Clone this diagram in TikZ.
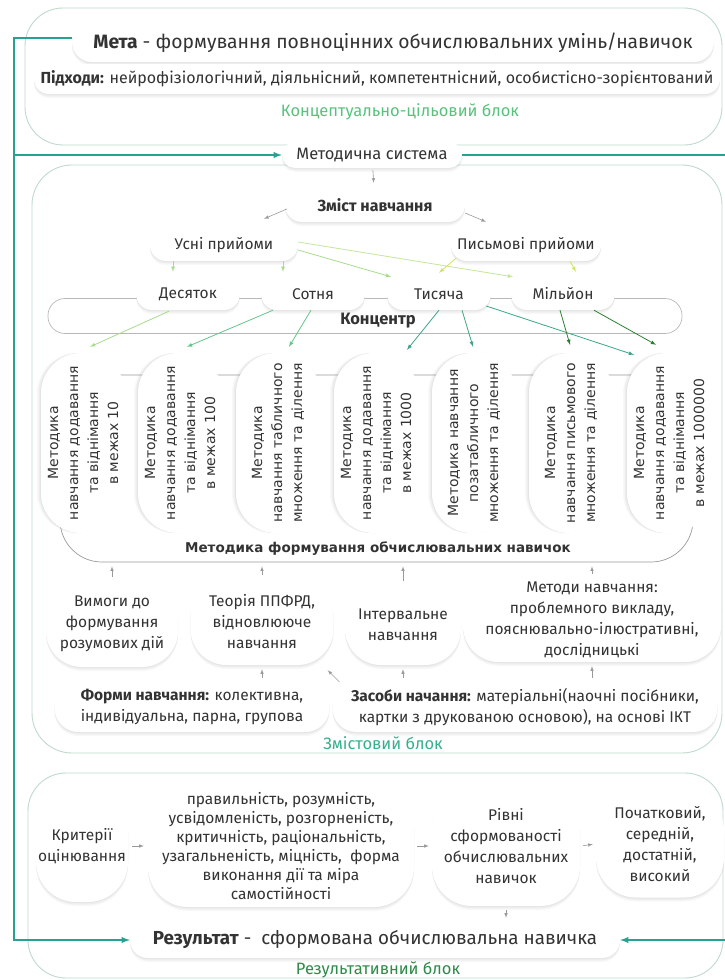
\documentclass[tikz,border=0pt]{standalone}
\usepackage{fontspec}
\setmainfont{Fira Sans}
\newfontfamily\widefont{DejaVu Sans}
\usetikzlibrary{shadows,arrows,calc}
\begin{document}
\begin{tikzpicture}[x=1pt,y=-1pt,
  pillbase/.style={fill=white, rounded corners=#1, align=center, text=txt, inner sep=1pt},
  pillbase/.default=18pt,
  pill/.style={pillbase=#1,
    drop shadow={opacity=0.09, shadow xshift=0pt, shadow yshift=-1pt},
    drop shadow={opacity=0.08, shadow xshift=0pt, shadow yshift=-2.5pt},
    drop shadow={opacity=0.06, shadow xshift=0pt, shadow yshift=-4pt}},
  pill/.default=18pt,
  vpill/.style={pillbase=40pt, rotate=90, minimum width=180pt, minimum height=84pt,
    drop shadow={opacity=0.09, shadow xshift=-1pt, shadow yshift=0pt},
    drop shadow={opacity=0.08, shadow xshift=-2.5pt, shadow yshift=0pt},
    drop shadow={opacity=0.06, shadow xshift=-4pt, shadow yshift=0pt},
    font=\widefont\fontsize{14}{20}\selectfont},
  small/.style={font=\fontsize{15.5}{21}\selectfont},
  blocklbl/.style={font=\fontsize{16.5}{18}\selectfont},
  block/.style={draw=blockline, line width=0.9pt, rounded corners=38pt},
  grayarr/.style={-latex, draw=arrgray, line width=0.6pt},
  grnarr/.style={-latex, draw=#1, line width=0.8pt},
  tealline/.style={draw=teal1, line width=1.8pt}]
\definecolor{txt}{HTML}{333333}
\definecolor{blockline}{HTML}{BFDACB}
\definecolor{teal1}{HTML}{27A190}
\definecolor{arrgray}{HTML}{9A9A9A}
\definecolor{lblA}{HTML}{58C27C}
\definecolor{lblB}{HTML}{35B08E}
\definecolor{lblC}{HTML}{2E8A48}
\definecolor{gA}{HTML}{A8DB8C}
\definecolor{gB}{HTML}{C3E59C}
\definecolor{gY}{HTML}{D3E45E}
\definecolor{gC}{HTML}{63C48C}
\definecolor{gD}{HTML}{3CA487}
\definecolor{gE}{HTML}{2B7F30}
\useasboundingbox (0,0) rectangle (725,980);

% blocks
\node[block, minimum width=697pt, minimum height=137pt] (blkTop) at (373.5,76.5) {};
\node[block, minimum width=690pt, minimum height=588pt, rounded corners=40pt] (blkMid) at (377,459) {};
\node[block, minimum width=695pt, minimum height=205pt] (blkBot) at (375.5,875.5) {};

\node[pill=20pt, minimum width=642pt, minimum height=38pt, font=\fontsize{19.3}{21}\selectfont] (meta) at (393,43)
  {\textbf{Мета} - формування повноцінних обчислювальних умінь/навичок};
\node[pill=15pt, minimum width=686pt, minimum height=30pt, font=\fontsize{16}{18}\selectfont] (pidh) at (377,79)
  {\textbf{Підходи:} нейрофізіологічний, діяльнісний, компетентнісний, особистісно-зорієнтований};
\node[blocklbl, text=lblA] (lblTop) at (400,112) {Концептуально-цільовий блок};

\node[pill=13pt, minimum width=180pt, minimum height=26pt, font=\fontsize{16.5}{18}\selectfont] (ms) at (372,155) {Методична система};

% zmist
\node[pill=17pt, minimum width=180pt, minimum height=34pt, font=\bfseries\fontsize{16}{18}\selectfont] (zmist) at (375,205) {Зміст навчання};
\node[pill=16pt, minimum width=148pt, minimum height=32pt, small] (usni) at (224,245) {Усні прийоми};
\node[pill=16pt, minimum width=150pt, minimum height=32pt, small] (pysm) at (526,245) {Письмові прийоми};

\node[draw=arrgray!70, line width=0.7pt, rounded corners=17pt, minimum width=634pt, minimum height=35pt] (conc) at (365,316) {};
\node[font=\bfseries\fontsize{16.5}{18}\selectfont, text=txt] (concLbl) at (378,321) {Концентр};
\node[pill=16pt, minimum width=104pt, minimum height=32pt, small] (dec) at (188,294) {Десяток};
\node[pill=16pt, minimum width=104pt, minimum height=32pt, small] (sot) at (313,294) {Сотня};
\node[pill=16pt, minimum width=104pt, minimum height=32pt, small] (tys) at (439,294) {Тисяча};
\node[pill=16pt, minimum width=104pt, minimum height=32pt, small] (mil) at (563,294) {Мільйон};

% methodics
\node[draw=arrgray, line width=0.7pt, rounded corners=42pt, minimum width=633pt, minimum height=187pt] (metod) at (376.5,468.5) {};
\node[font=\widefont\bfseries\fontsize{13.5}{16}\selectfont, text=txt] (metodLbl) at (378,549) {Методика формування обчислювальних навичок};
\node[vpill] (p1) at (83,443) {Методика\\навчання додавання\\та віднімання\\в межах 10};
\node[vpill] (p2) at (180,443) {Методика\\навчання додавання\\та віднімання\\в межах 100};
\node[vpill] (p3) at (278,443) {Методика\\навчання табличного\\множення та ділення};
\node[vpill] (p4) at (376,443) {Методика\\навчання додавання\\та віднімання\\в межах 1000};
\node[vpill] (p5) at (474,443) {Методика навчання\\позатабличного\\множення та ділення};
\node[vpill] (p6) at (571,443) {Методика\\навчання письмового\\множення та ділення};
\node[vpill] (p7) at (669,443) {Методика\\навчання додавання\\та віднімання\\в межах 1000000};

\node[pill=36pt, minimum width=132pt, minimum height=86pt, small] (vym) at (112,624) {Вимоги до\\формування\\розумових дій};
\node[pill=36pt, minimum width=143pt, minimum height=86pt, small] (teor) at (262,622) {Теорія ППФРД,\\відновлююче\\навчання};
\node[pill=36pt, minimum width=116pt, minimum height=80pt, small] (int) at (403,625) {Інтервальне\\навчання};
\node[pill=36pt, minimum width=258pt, minimum height=84pt, small] (meth) at (592,620) {Методи навчання:\\проблемного викладу,\\пояснювально-ілюстративні,\\дослідницькі};
\node[pill=24pt, minimum width=275pt, minimum height=50pt, small] (form) at (192,707) {\textbf{Форми навчання:} колективна,\\індивідуальна, парна, групова};
\node[pill=24pt, minimum width=385pt, minimum height=50pt, small] (zas) at (525,707) {\textbf{Засоби начання:} матеріальні(наочні посібники,\\картки з друкованою основою), на основі ІКТ};
\node[blocklbl, text=lblB] (lblMid) at (383,743) {Змістовий блок};

% result block
\node[pill=40pt, minimum width=92pt, minimum height=112pt, small] (krit) at (82,846) {Критерії\\оцінювання};
\node[pill=40pt, minimum width=266pt, minimum height=122pt, font=\fontsize{15.5}{19}\selectfont] (crit) at (281,846) {правильність, розумність,\\усвідомленість, розгорненість,\\критичність, раціональність,\\узагальненість, міцність,~ форма\\виконання дії та міра\\самостійності};
\node[pill=40pt, minimum width=148pt, minimum height=120pt, small] (riv) at (506,846) {Рівні\\сформованості\\обчислювальних\\навичок};
\node[pill=40pt, minimum width=128pt, minimum height=107pt, small] (poch) at (660,844) {Початковий,\\середній,\\достатній,\\високий};
\node[pill=18pt, minimum width=490pt, minimum height=36pt, font=\fontsize{18.8}{21}\selectfont] (res) at (375,940) {\textbf{Результат} -~ сформована обчислювальна навичка};
\node[blocklbl, text=lblC] (lblBot) at (378,970) {Результативний блок};

% teal frame
\coordinate (tl) at (14,38);
\coordinate (tm) at (14,155);
\coordinate (rm) at (732,155);
\draw[tealline, -latex] ($(meta.west)+(0,-5)$) -- (tl) |- (res.west);
\draw[tealline, -latex] (tm) -- (ms.west);
\draw[tealline, -latex] (ms.east) -- (rm) |- (res.east);

% gray arrows
\draw[grayarr, shorten <=2pt, shorten >=5pt] (ms) -- (zmist);
\draw[grayarr] ($(zmist.west)+(2,4)$) -- ($(usni.north)+(40,-10)$);
\draw[grayarr] ($(zmist.east)+(0,8)$) -- ($(pysm.north)+(-40,-7)$);

% green arrows
\draw[grnarr=gA] ($(usni.south)+(-51,0)$) -- ($(dec.north)+(-15,-6)$);
\draw[grnarr=gA] ($(usni.south)+(59,0)$) -- ($(sot.north)+(-30,-6)$);
\draw[grnarr=gA] ($(usni.east)+(0,5)$) -- ($(tys.north)+(-48,-1)$);
\draw[grnarr=gB] ($(usni.east)+(0,-3)$) -- ($(mil.north)+(-50,-1)$);
\draw[grnarr=gY] ($(pysm.south)+(-70,-3)$) -- ($(tys.north)+(0,-5)$);
\draw[grnarr=gY] ($(pysm.south)+(44,0)$) -- ($(mil.north)+(13,-6)$);
\draw[grnarr=gA] ($(dec.south)+(-19,1)$) -- ($(p1.east)+(7,-6)$);
\draw[grnarr=gC] ($(sot.south)+(-40,0)$) -- ($(p2.east)+(7,-6)$);
\draw[grnarr=gC] ($(sot.south)+(-2,0)$) -- ($(p3.east)+(11,-6)$);
\draw[grnarr=gD] (tys.south) -- ($(p4.east)+(31,-3)$);
\draw[grnarr=gD] ($(tys.south)+(23,0)$) -- ($(p5.east)+(-1,-6)$);
\draw[grnarr=gD] ($(tys.east)+(-5,12)$) -- ($(p7.east)+(-35,2)$);
\draw[grnarr=gE] ($(mil.south)+(-3,0)$) -- ($(p6.east)+(-1,-8)$);
\draw[grnarr=gE] ($(mil.south)+(31,0)$) -- ($(p7.east)+(-13,-8)$);

% lower arrows
\draw[grayarr, shorten <=4pt, shorten >=4pt] (vym.north) -- (vym.north |- metod.south);
\draw[grayarr, shorten <=4pt, shorten >=4pt] (teor.north) -- (teor.north |- metod.south);
\draw[grayarr, shorten <=4pt, shorten >=4pt] (int.north) -- (int.north |- metod.south);
\draw[grayarr, shorten <=4pt, shorten >=4pt] (meth.north) -- (meth.north |- metod.south);
\draw[grayarr, shorten <=4pt, shorten >=4pt] (teor.south |- form.north) -- (teor.south);
\draw[grayarr, shorten <=4pt, shorten >=4pt] (int.south |- zas.north) -- (int.south);
\draw[grayarr, shorten <=4pt, shorten >=4pt] (meth.south |- zas.north) -- (meth.south);
\draw[grayarr] ($(zas.north west)+(7,0)$) -- ($(teor.south east)+(-6,5)$);

\draw[grayarr, shorten <=4pt, shorten >=4pt] (krit.east) -- (crit.west);
\draw[grayarr, shorten <=3pt, shorten >=3pt] (crit.east) -- (riv.west);
\draw[grayarr, shorten <=3pt, shorten >=3pt] (riv.east) -- (poch.west);
\draw[grayarr, shorten <=4pt, shorten >=4pt] (riv.south) -- (riv.south |- res.north);
\end{tikzpicture}
\end{document}
